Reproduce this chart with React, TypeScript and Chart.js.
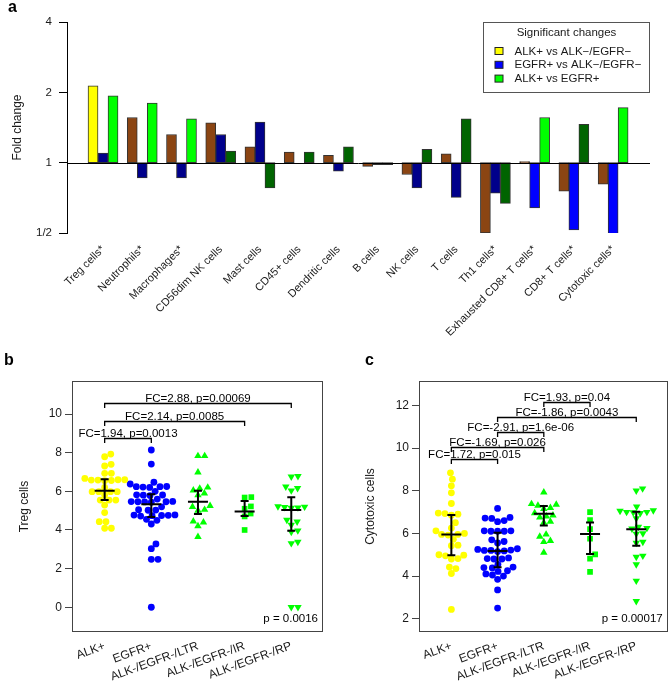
import React, { useEffect, useRef } from 'react';
import { Chart, registerables } from 'chart.js';

Chart.register(...registerables);

const FONT = "'Liberation Sans', Arial, Helvetica, sans-serif";
const TEXT = '#1a1a1a';

// ---------------- Panel a data ----------------
const cellTypes = [
  'Treg cells*', 'Neutrophils*', 'Macrophages*', 'CD56dim NK cells', 'Mast cells', 'CD45+ cells',
  'Dendritic cells', 'B cells', 'NK cells', 'T cells', 'Th1 cells*', 'Exhausted CD8+ T cells*',
  'CD8+ T cells*', 'Cytotoxic cells*',
];
const foldAlkVsNeg = [2.13, 1.56, 1.32, 1.48, 1.17, 1.11, 1.075, 0.964, 0.89, 1.09, 0.5, 1.01, 0.755, 0.81];
const foldEgfrVsNeg = [1.1, 0.86, 0.86, 1.32, 1.49, 1.0, 0.92, 0.98, 0.78, 0.71, 0.74, 0.64, 0.516, 0.468];
const foldAlkVsEgfr = [1.93, 1.8, 1.54, 1.12, 0.78, 1.11, 1.17, 0.98, 1.14, 1.54, 0.67, 1.56, 1.46, 1.72];
const sigAlkVsNeg = [1, 0, 0, 0, 0, 0, 0, 0, 0, 0, 0, 0, 0, 0];
const sigEgfrVsNeg = [0, 0, 0, 0, 0, 0, 0, 0, 0, 0, 0, 1, 1, 1];
const sigAlkVsEgfr = [1, 1, 1, 0, 0, 0, 0, 0, 0, 0, 0, 1, 0, 1];
const foldTicks = [0.5, 1, 2, 4];
const foldTickLabels = ['1/2', '1', '2', '4'];
const legendTitle = 'Significant changes';
const legendLabels = ['ALK+ vs ALK\u2212/EGFR\u2212', 'EGFR+ vs ALK\u2212/EGFR\u2212', 'ALK+ vs EGFR+'];
const sigColors = ['#FFFF00', '#0000FF', '#00FF00'];
const nsColors = ['#8B4513', '#00008B', '#006400'];

// ---------------- Panels b / c data ----------------
const groups = ['ALK+', 'EGFR+', 'ALK-/EGFR-/LTR', 'ALK-/EGFR-/IR', 'ALK-/EGFR-/RP'];

const tregAlk = [7.93, 7.79, 7.4, 7.31, 6.93, 6.93, 6.67, 6.6, 6.58, 6.56, 6.55, 6.6, 6.58, 6.2, 5.98, 5.98, 5.98, 5.98, 5.81, 5.55, 5.55, 5.55, 5.29, 4.9, 4.43, 4.43, 4.09, 4.09];
const tregEgfr = [8.14, 7.41, 6.47, 6.38, 6.25, 6.24, 6.24, 6.22, 6.2, 6.0, 5.82, 5.81, 5.8, 5.78, 5.6, 5.48, 5.47, 5.46, 5.46, 5.45, 5.44, 5.2, 5.05, 5.03, 5.02, 4.78, 4.77, 4.76, 4.75, 4.74, 4.72, 4.55, 4.5, 4.31, 3.28, 3.03, 2.48, 2.48, 0.0];
const tregLtr = [7.83, 7.83, 6.98, 6.2, 6.15, 6.05, 5.9, 5.8, 5.25, 5.2, 5.05, 5.0, 4.45, 4.4, 4.2, 3.65];
const tregIr = [5.7, 5.68, 5.22, 5.1, 4.85, 4.7, 4.0];
const tregRp = [6.78, 6.76, 6.24, 6.16, 6.04, 5.22, 5.2, 5.18, 5.16, 5.14, 4.52, 4.43, 4.26, 3.97, 3.9, 3.38, 3.31, 0.0, 0.0];
const tregCenter = [6.03, 5.33, 5.46, 4.95, 5.03];
const tregLow = [5.55, 4.67, 4.83, 4.72, 3.96];
const tregHigh = [6.63, 5.85, 6.03, 5.5, 5.69];
const tregTicks = [0, 2, 4, 6, 8, 10];
const tregBracketFrom = [1, 1, 1];
const tregBracketTo = [2, 4, 5];
const tregBracketY = [8.74, 9.65, 10.59];
const tregBracketLabels = ['FC=1.94, p=0.0013', 'FC=2.14, p=0.0085', 'FC=2.88, p=0.00069'];
const tregP = 'p = 0.0016';

const cytoAlk = [8.84, 8.54, 8.23, 7.9, 7.4, 6.95, 6.93, 6.9, 6.85, 6.5, 6.25, 6.12, 6.0, 5.95, 5.95, 5.92, 5.72, 5.45, 5.42, 5.0, 4.98, 4.95, 4.82, 4.8, 4.42, 4.35, 4.12, 2.44];
const cytoEgfr = [7.17, 6.75, 6.72, 6.7, 6.6, 6.55, 6.12, 6.12, 6.1, 6.1, 6.1, 5.7, 5.62, 5.55, 5.28, 5.25, 5.22, 5.2, 5.2, 5.18, 5.15, 4.85, 4.82, 4.8, 4.8, 4.55, 4.42, 4.4, 4.38, 4.25, 4.22, 4.1, 4.05, 4.0, 3.85, 3.35, 2.5];
const cytoLtr = [7.92, 7.38, 7.35, 7.3, 7.2, 7.15, 6.95, 6.85, 6.8, 6.75, 6.55, 6.5, 5.95, 5.85, 5.65, 5.6, 5.1];
const cytoIr = [7.0, 6.62, 6.2, 5.75, 5.02, 4.82, 4.2];
const cytoRp = [8.1, 8.0, 7.25, 7.08, 7.05, 7.0, 7.0, 6.98, 6.95, 6.7, 6.3, 6.25, 6.22, 6.0, 5.98, 5.6, 5.55, 4.95, 4.9, 4.55, 3.78, 2.82];
const cytoCenter = [5.95, 5.18, 6.92, 5.97, 6.19];
const cytoLow = [4.98, 4.41, 6.37, 5.03, 5.42];
const cytoHigh = [6.86, 6.03, 7.28, 6.51, 7.01];
const cytoTicks = [2, 4, 6, 8, 10, 12];
const cytoBracketFrom = [1, 1, 2, 2, 3];
const cytoBracketTo = [2, 3, 3, 5, 4];
const cytoBracketY = [9.48, 10.06, 10.74, 11.46, 12.16];
const cytoBracketLabels = ['FC=1.72, p=0.015', 'FC=-1.69, p=0.026', 'FC=-2.91, p=1.6e-06', 'FC=-1.86, p=0.0043', 'FC=1.93, p=0.04'];
const cytoP = 'p = 0.00017';

const groupColors = ['#FFFF00', '#0000FF', '#00FF00', '#00FF00', '#00FF00'];
const groupStyles = ['circle', 'circle', 'triangle', 'rect', 'triangle'];
const groupRotation = [0, 0, 0, 0, 180];
const groupRadius = [3.4, 3.4, 4.3, 4.0, 4.3];

// beeswarm layout (R "swarm" method): ascending priority, nearest-to-centre free slot
function swarm(values: number[], pxY: number, pxX: number, d: number): number[] {
  const order = values.map((_, i) => i).sort((a, b) => values[a] - values[b]);
  const placed: { x: number; y: number }[] = [];
  const res = new Array(values.length).fill(0);
  for (const i of order) {
    const y = values[i] * pxY;
    const near = placed.filter((p) => Math.abs(p.y - y) < d);
    const cands = [0];
    for (const p of near) {
      const dx = Math.sqrt(d * d - (p.y - y) ** 2);
      cands.push(p.x + dx, p.x - dx);
    }
    cands.sort((a, b) => Math.abs(a) - Math.abs(b) || b - a);
    let x = 0;
    for (const c of cands) {
      if (near.every((p) => (p.x - c) ** 2 + (p.y - y) ** 2 >= d * d - 1e-6)) {
        x = c;
        break;
      }
    }
    placed.push({ x, y });
    res[i] = x / pxX;
  }
  return res;
}

// ---------------- Panel a ----------------
function makePanelA() {
  const series = [
    { vals: foldAlkVsNeg, sig: sigAlkVsNeg, k: 0 },
    { vals: foldEgfrVsNeg, sig: sigEgfrVsNeg, k: 1 },
    { vals: foldAlkVsEgfr, sig: sigAlkVsEgfr, k: 2 },
  ];
  const plugin = {
    id: 'panelADecor',
    afterDatasetsDraw(chart: any) {
      const { ctx, chartArea: ca, scales } = chart;
      const y = Math.round(scales.y.getPixelForValue(1)) + 0.5;
      ctx.save();
      ctx.strokeStyle = '#000';
      ctx.lineWidth = 1;
      ctx.beginPath();
      ctx.moveTo(ca.left, y);
      ctx.lineTo(ca.right, y);
      ctx.stroke();
      ctx.restore();
    },
    afterDraw(chart: any) {
      const { ctx, chartArea: ca } = chart;
      ctx.save();
      ctx.fillStyle = '#000';
      ctx.font = `bold 16px ${FONT}`;
      ctx.textAlign = 'left';
      ctx.textBaseline = 'alphabetic';
      ctx.fillText('a', 8, 12);
      ctx.font = `12px ${FONT}`;
      ctx.fillStyle = TEXT;
      ctx.translate(18, (ca.top + ca.bottom) / 2);
      ctx.rotate(-Math.PI / 2);
      ctx.textAlign = 'center';
      ctx.textBaseline = 'middle';
      ctx.fillText('Fold change', 0, 0);
      ctx.restore();

      // legend
      const w = 166;
      const h = 70;
      const x0 = Math.round(ca.right - w) - 0.5;
      const y0 = Math.round(ca.top) + 0.5;
      ctx.save();
      ctx.fillStyle = '#fff';
      ctx.fillRect(x0, y0, w, h);
      ctx.strokeStyle = '#555';
      ctx.lineWidth = 1;
      ctx.strokeRect(x0, y0, w, h);
      ctx.fillStyle = TEXT;
      ctx.font = `11.5px ${FONT}`;
      ctx.textAlign = 'center';
      ctx.textBaseline = 'middle';
      ctx.fillText(legendTitle, x0 + w / 2, y0 + 10.5);
      ctx.textAlign = 'left';
      legendLabels.forEach((lab, i) => {
        const cy = y0 + 28.5 + i * 13.8;
        ctx.fillStyle = sigColors[i];
        ctx.fillRect(x0 + 11.5, cy - 3.5, 8, 7);
        ctx.strokeStyle = '#222';
        ctx.strokeRect(x0 + 11.5, cy - 3.5, 8, 7);
        ctx.fillStyle = TEXT;
        ctx.fillText(lab, x0 + 31, cy + 0.5);
      });
      ctx.restore();
    },
  };
  return {
    type: 'bar',
    data: {
      datasets: series.map((s) => ({
        label: legendLabels[s.k],
        data: s.vals.map((v, i) => ({ x: i, y: [1, v] })),
        backgroundColor: s.vals.map((_, i) => (s.sig[i] ? sigColors[s.k] : nsColors[s.k])),
        borderColor: '#333',
        borderWidth: 1,
        borderSkipped: false,
        barThickness: 10,
      })),
    },
    options: {
      animation: false,
      responsive: false,
      maintainAspectRatio: false,
      events: [],
      layout: { padding: { left: 0, top: 22, right: 22, bottom: 0 } },
      plugins: { legend: { display: false }, tooltip: { enabled: false } },
      scales: {
        x: {
          type: 'linear',
          min: -0.918,
          max: 13.94,
          offset: false,
          grid: { display: false, drawTicks: false, offset: false },
          border: { display: false },
          ticks: {
            autoSkip: false,
            minRotation: 45,
            maxRotation: 45,
            padding: 10,
            color: TEXT,
            font: { family: FONT, size: 11 },
            callback: (v: any) => cellTypes[v] ?? '',
          },
          afterBuildTicks: (s: any) => {
            s.ticks = cellTypes.map((_, i) => ({ value: i }));
          },
          afterFit: (s: any) => {
            s.height = 112;
          },
        },
        y: {
          type: 'logarithmic',
          min: 0.5,
          max: 4,
          grid: { display: true, drawOnChartArea: false, drawTicks: true, tickLength: 8, color: '#000' },
          border: { display: true, color: '#000', width: 1 },
          ticks: {
            padding: 7,
            color: TEXT,
            font: { family: FONT, size: 11.5 },
            callback: (v: any) => {
              const k = foldTicks.indexOf(Number(v));
              return k >= 0 ? foldTickLabels[k] : '';
            },
          },
          afterBuildTicks: (s: any) => {
            s.ticks = foldTicks.map((v) => ({ value: v }));
          },
          afterFit: (s: any) => {
            s.width = 67;
          },
        },
      },
    },
    plugins: [plugin],
  };
}

// ---------------- Panels b / c ----------------
type DotSpec = {
  letter: string;
  letterX: number;
  title: string;
  titleX: number;
  values: number[][];
  center: number[];
  low: number[];
  high: number[];
  ticks: number[];
  yMin: number;
  yMax: number;
  bFrom: number[];
  bTo: number[];
  bY: number[];
  bLabels: string[];
  pText: string;
  axisWidth: number;
  padRight: number;
  canvasWidth: number;
};

function makeDotPanel(p: DotSpec) {
  const H = 338;
  const top = 36;
  const xh = 51;
  const areaH = H - top - xh;
  const areaW = p.canvasWidth - p.axisWidth - p.padRight;
  const xMin = 0.3;
  const xMax = 5.68;
  const pxY = areaH / (p.yMax - p.yMin);
  const pxX = areaW / (xMax - xMin);

  const datasets = p.values.map((vals, g) => {
    const off = swarm(vals, pxY, pxX, 6.7);
    return {
      label: groups[g],
      data: vals.map((v, k) => ({ x: g + 1 + off[k], y: v })),
      pointStyle: groupStyles[g],
      pointRotation: groupRotation[g],
      pointRadius: groupRadius[g],
      pointHoverRadius: groupRadius[g],
      pointBackgroundColor: groupColors[g],
      pointBorderWidth: 0,
      pointBorderColor: groupColors[g],
      showLine: false,
    };
  });

  const plugin = {
    id: 'dotDecor',
    afterDatasetsDraw(chart: any) {
      const { ctx, chartArea: ca, scales } = chart;
      const sx = scales.x;
      const sy = scales.y;
      ctx.save();
      // box
      ctx.strokeStyle = '#444';
      ctx.lineWidth = 1;
      ctx.strokeRect(Math.round(ca.left) + 0.5, Math.round(ca.top) + 0.5, Math.round(ca.right - ca.left) - 1, Math.round(ca.bottom - ca.top) - 1);
      // error bars
      ctx.strokeStyle = '#000';
      ctx.lineWidth = 2;
      p.center.forEach((c, i) => {
        const x = sx.getPixelForValue(i + 1);
        const yl = sy.getPixelForValue(p.low[i]);
        const yh = sy.getPixelForValue(p.high[i]);
        const yc = sy.getPixelForValue(c);
        ctx.beginPath();
        ctx.moveTo(x, yl);
        ctx.lineTo(x, yh);
        ctx.moveTo(x - 4, yl);
        ctx.lineTo(x + 4, yl);
        ctx.moveTo(x - 4, yh);
        ctx.lineTo(x + 4, yh);
        ctx.moveTo(x - 10, yc);
        ctx.lineTo(x + 10, yc);
        ctx.stroke();
      });
      // brackets
      ctx.lineWidth = 1.3;
      ctx.font = `11.5px ${FONT}`;
      ctx.fillStyle = '#000';
      ctx.textAlign = 'center';
      ctx.textBaseline = 'alphabetic';
      p.bY.forEach((yv, i) => {
        const x1 = sx.getPixelForValue(p.bFrom[i]);
        const x2 = sx.getPixelForValue(p.bTo[i]);
        const y = Math.round(sy.getPixelForValue(yv)) + 0.5;
        ctx.beginPath();
        ctx.moveTo(x1, y + 4.5);
        ctx.lineTo(x1, y);
        ctx.lineTo(x2, y);
        ctx.lineTo(x2, y + 4.5);
        ctx.stroke();
        ctx.fillText(p.bLabels[i], (x1 + x2) / 2, y - 1.5);
      });
      // p value
      ctx.textAlign = 'right';
      ctx.fillText(p.pText, ca.right - 5, ca.bottom - 10);
      ctx.restore();
    },
    afterDraw(chart: any) {
      const { ctx, chartArea: ca } = chart;
      ctx.save();
      ctx.fillStyle = '#000';
      ctx.font = `bold 16px ${FONT}`;
      ctx.textAlign = 'left';
      ctx.textBaseline = 'alphabetic';
      ctx.fillText(p.letter, p.letterX, 20);
      ctx.font = `12px ${FONT}`;
      ctx.fillStyle = TEXT;
      ctx.translate(p.titleX, (ca.top + ca.bottom) / 2);
      ctx.rotate(-Math.PI / 2);
      ctx.textAlign = 'center';
      ctx.textBaseline = 'middle';
      ctx.fillText(p.title, 0, 0);
      ctx.restore();
    },
  };

  return {
    type: 'scatter',
    data: { datasets },
    options: {
      animation: false,
      responsive: false,
      maintainAspectRatio: false,
      events: [],
      layout: { padding: { left: 0, top, right: p.padRight, bottom: 0 } },
      plugins: { legend: { display: false }, tooltip: { enabled: false } },
      scales: {
        x: {
          type: 'linear',
          min: xMin,
          max: xMax,
          grid: { display: false, drawTicks: false },
          border: { display: false },
          ticks: {
            autoSkip: false,
            minRotation: 20,
            maxRotation: 20,
            padding: 7,
            color: TEXT,
            font: { family: FONT, size: 12 },
            callback: (v: any) => groups[Number(v) - 1] ?? '',
          },
          afterBuildTicks: (s: any) => {
            s.ticks = groups.map((_, i) => ({ value: i + 1 }));
          },
          afterFit: (s: any) => {
            s.height = xh;
          },
        },
        y: {
          type: 'linear',
          min: p.yMin,
          max: p.yMax,
          grid: { display: true, drawOnChartArea: false, drawTicks: true, tickLength: 7, color: '#444' },
          border: { display: false },
          ticks: {
            padding: 3,
            color: TEXT,
            font: { family: FONT, size: 12 },
            callback: (v: any) => String(v),
          },
          afterBuildTicks: (s: any) => {
            s.ticks = p.ticks.map((v) => ({ value: v }));
          },
          afterFit: (s: any) => {
            s.width = p.axisWidth;
          },
        },
      },
    },
    plugins: [plugin],
  };
}

function ChartBox(props: { left: number; top: number; width: number; height: number; make: () => any }) {
  const ref = useRef<HTMLCanvasElement | null>(null);
  useEffect(() => {
    if (!ref.current) return;
    const chart = new Chart(ref.current, props.make());
    return () => chart.destroy();
  }, []);
  return (
    <canvas
      ref={ref}
      width={props.width}
      height={props.height}
      style={{ position: 'absolute', left: props.left, top: props.top, width: props.width, height: props.height, display: 'block' }}
    />
  );
}

export default function App() {
  return (
    <div style={{ position: 'absolute', left: 0, top: 0, width: 672, height: 683, background: '#fff', overflow: 'hidden' }}>
      <ChartBox left={0} top={0} width={672} height={345} make={makePanelA} />
      <ChartBox
        left={0}
        top={345}
        width={336}
        height={338}
        make={() =>
          makeDotPanel({
            letter: 'b', letterX: 4, title: 'Treg cells', titleX: 25,
            values: [tregAlk, tregEgfr, tregLtr, tregIr, tregRp],
            center: tregCenter, low: tregLow, high: tregHigh, ticks: tregTicks,
            yMin: -1.28, yMax: 11.71,
            bFrom: tregBracketFrom, bTo: tregBracketTo, bY: tregBracketY, bLabels: tregBracketLabels,
            pText: tregP, axisWidth: 72, padRight: 13, canvasWidth: 336,
          })
        }
      />
      <ChartBox
        left={336}
        top={345}
        width={336}
        height={338}
        make={() =>
          makeDotPanel({
            letter: 'c', letterX: 29, title: 'Cytotoxic cells', titleX: 35,
            values: [cytoAlk, cytoEgfr, cytoLtr, cytoIr, cytoRp],
            center: cytoCenter, low: cytoLow, high: cytoHigh, ticks: cytoTicks,
            yMin: 1.38, yMax: 13.14,
            bFrom: cytoBracketFrom, bTo: cytoBracketTo, bY: cytoBracketY, bLabels: cytoBracketLabels,
            pText: cytoP, axisWidth: 83, padRight: 3, canvasWidth: 336,
          })
        }
      />
    </div>
  );
}
